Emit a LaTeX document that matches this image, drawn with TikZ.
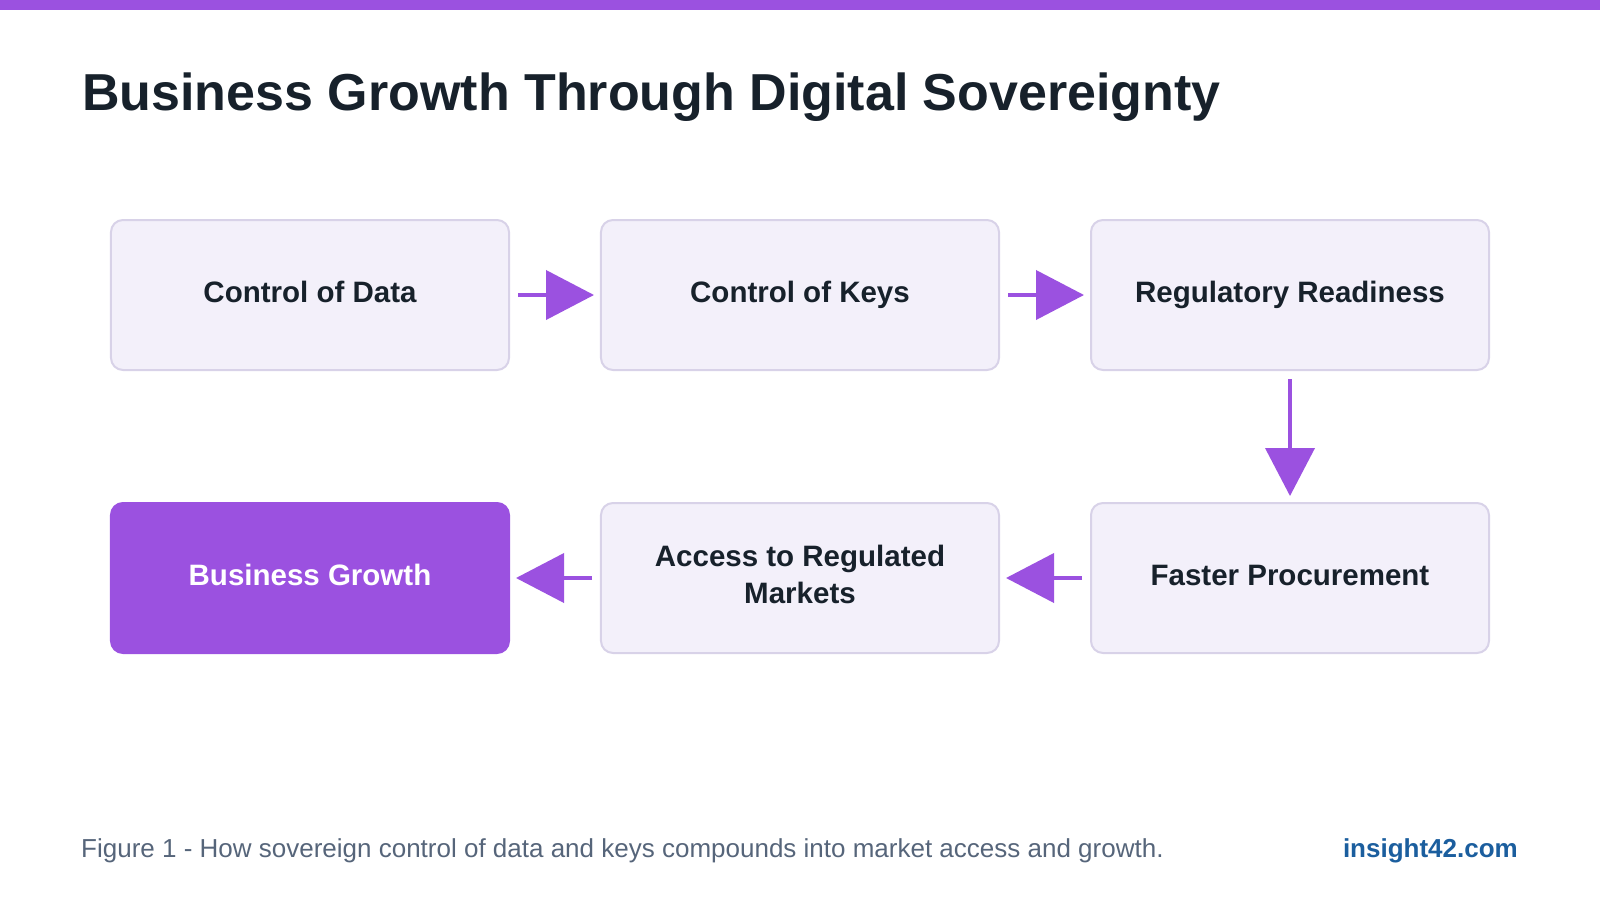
\documentclass[tikz,border=0pt]{standalone}
\usepackage{fontspec}
\setmainfont{Liberation Sans}
\usepackage{tikz}
\usetikzlibrary{matrix,arrows.meta}
\hyphenpenalty=10000

\definecolor{accent}{HTML}{9B51E0}
\definecolor{ink}{HTML}{17212B}
\definecolor{boxfill}{HTML}{F3F0FA}
\definecolor{boxline}{HTML}{D8D2E8}
\definecolor{captiongrey}{HTML}{56657A}
\definecolor{sitelink}{HTML}{1B5E9E}

\tikzset{
  stagebox/.style={draw=boxline, fill=boxfill, line width=2pt, rounded corners=12pt,
    text width=382pt, inner xsep=8pt, minimum height=150pt, align=flush center, anchor=center,
    text=ink, font=\fontsize{29.5}{37}\selectfont\bfseries,
    execute at begin node=\strut, execute at end node=\strut},
  goalbox/.style={stagebox, draw=accent, fill=accent, text=white},
  flow/.style={color=accent, line width=4pt, -{Triangle[length=48pt,width=49pt]},
    shorten <=8pt, shorten >=6pt}
}

\begin{document}
\begin{tikzpicture}[x=1pt, y=-1pt]
  \useasboundingbox (0,0) rectangle (1600,900);
  \fill[accent] (0,0) rectangle (1600,10);
  \node[anchor=base west, inner sep=0pt, text=ink, font=\fontsize{52}{60}\selectfont\bfseries]
    (title) at (82,110) {Business Growth Through Digital Sovereignty};
  \matrix (m) [matrix of nodes, nodes={stagebox}, row sep=131pt, column sep=90pt, inner sep=0pt]
    at (800,436.5)
  {
    Control of Data  &  Control of Keys  &  Regulatory Readiness  \\
    |[goalbox]| Business Growth  &  Access to Regulated Markets  &  Faster Procurement  \\ };
  \path[flow]
  (m-1-1) edge (m-1-2)
  (m-1-2) edge (m-1-3)
  (m-1-3) edge (m-2-3)
  (m-2-3) edge (m-2-2)
  (m-2-2) edge (m-2-1);
  \node[anchor=base west, inner sep=0pt, text=captiongrey, font=\fontsize{26}{30}\selectfont]
    (caption) at (81,857) {Figure 1 - How sovereign control of data and keys compounds into market access and growth.};
  \node[anchor=base east, inner sep=0pt, text=sitelink, font=\fontsize{26}{30}\selectfont\bfseries]
    (site) at (1518,857) {insight42.com};
\end{tikzpicture}
\end{document}
